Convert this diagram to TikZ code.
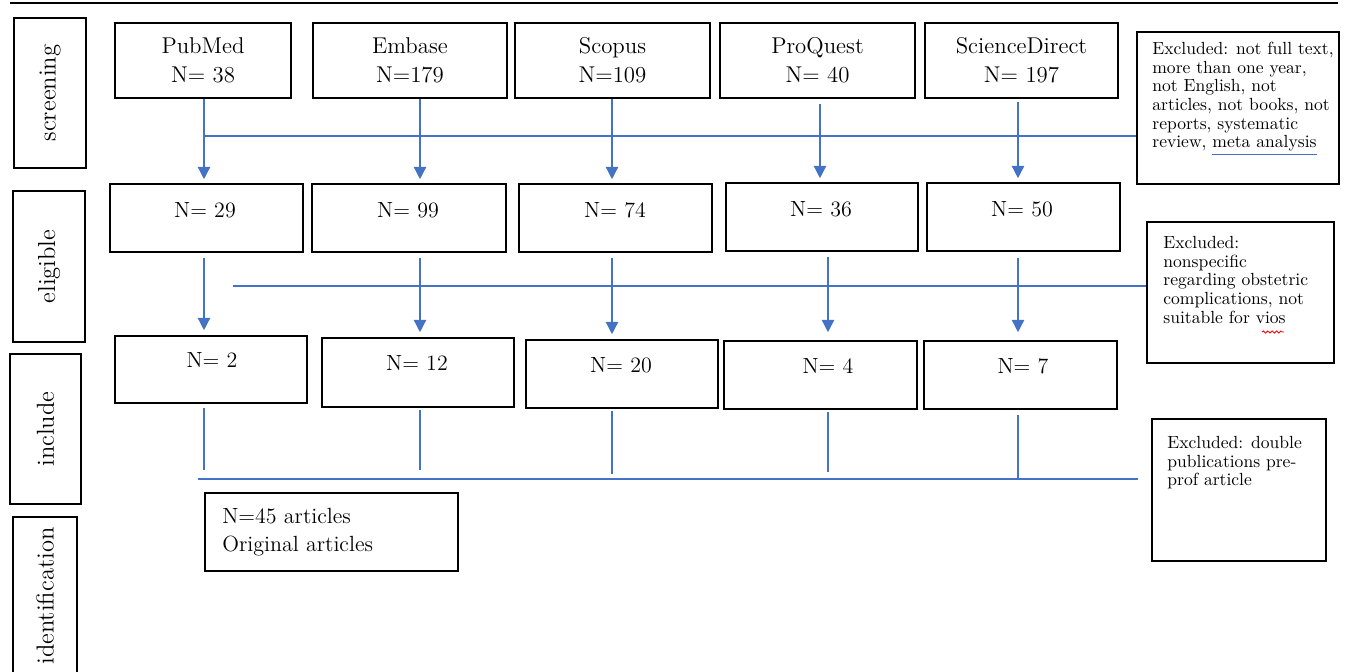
\documentclass[tikz,border=0pt]{standalone}
\usetikzlibrary{arrows.meta,decorations.pathmorphing}
\definecolor{lineblue}{HTML}{4472C4}

\begin{document}
\begin{tikzpicture}[
    x = 0.02cm,
    y = -0.02cm,
    >={Triangle[width=7pt,length=7pt]},
    box/.style = {
      draw,
      line width = 0.9pt,
      rectangle,
      inner sep = 0pt
    },
    src/.style = {box, minimum height=1.5cm, align=center, font=\fontsize{13}{16.5}\selectfont},
    cnt/.style = {box, minimum height=1.36cm},
    stage/.style = {box, rotate=90, font=\fontsize{14}{16}\selectfont},
    txt/.style = {inner sep=0pt, font=\fontsize{12.5}{16}\selectfont},
    note/.style = {inner sep=0pt, align=left, font=\fontsize{10}{10.6}\selectfont},
    flow/.style = {lineblue, line width=0.8pt}
  ]
\useasboundingbox (0,0) rectangle (1346,672);

% rule
\draw[line width=1pt] (10,3) -- (1338,3);

% stages
\node[stage, minimum width=3cm, minimum height=1.44cm] (screening) at (50,93) {screening};
\node[stage, minimum width=3.02cm, minimum height=1.44cm] (eligible) at (49,266.5) {eligible};
\node[stage, minimum width=3cm, minimum height=1.42cm] (include) at (45.5,429) {include};
\node[stage, minimum width=3.16cm, minimum height=1.28cm] (identification) at (45,596) {identification};

% databases
\node[src, minimum width=3.52cm] (pubmed)   at (203,60.5)    {PubMed\\N= 38};
\node[src, minimum width=3.88cm] (embase)   at (410,60.5)    {Embase\\N=179};
\node[src, minimum width=3.9cm]  (scopus)   at (612.5,60.5)  {Scopus\\N=109};
\node[src, minimum width=3.9cm]  (proquest) at (817.5,60.5)  {ProQuest\\N= 40};
\node[src, minimum width=3.86cm] (scidir)   at (1021.5,60.5) {ScienceDirect\\N= 197};

% eligible counts
\node[cnt, minimum width=3.86cm] (elig1) at (206.5,218) {};
\node[cnt, minimum width=3.88cm] (elig2) at (409,218)   {};
\node[cnt, minimum width=3.86cm] (elig3) at (615.5,218) {};
\node[cnt, minimum width=3.84cm] (elig4) at (822,217)   {};
\node[cnt, minimum width=3.86cm] (elig5) at (1023.5,217) {};
\node[txt, anchor=north] (elig1n) at (205,202)  {N= 29};
\node[txt, anchor=north] (elig2n) at (408,202)  {N= 99};
\node[txt, anchor=north] (elig3n) at (615,202)  {N= 74};
\node[txt, anchor=north] (elig4n) at (821,201)  {N= 36};
\node[txt, anchor=north] (elig5n) at (1022,201) {N= 50};

% included counts
\node[cnt, minimum width=3.84cm, minimum height=1.34cm] (inc1) at (211,369.5)  {};
\node[cnt, minimum width=3.84cm, minimum height=1.38cm] (inc2) at (418,372.5)  {};
\node[cnt, minimum width=3.84cm] (inc3) at (622,374)    {};
\node[cnt, minimum width=3.86cm] (inc4) at (820.5,375)  {};
\node[cnt, minimum width=3.86cm] (inc5) at (1020.5,375) {};
\node[txt, anchor=north] (inc1n) at (212,352)  {N= 2};
\node[txt, anchor=north] (inc2n) at (417,355)  {N= 12};
\node[txt, anchor=north] (inc3n) at (621,357)  {N= 20};
\node[txt, anchor=north] (inc4n) at (828,358)  {N= 4};
\node[txt, anchor=north] (inc5n) at (1023,358) {N= 7};

% result
\node[box, minimum width=5.06cm, minimum height=1.56cm] (final) at (331.5,532) {};
\node[txt, anchor=north west, align=left] (finaln) at (222,508) {N=45 articles\\Original articles};

% excluded
\node[box, minimum width=4.04cm, minimum height=3.04cm] (excl1) at (1238,108)   {};
\node[box, minimum width=3.74cm, minimum height=2.82cm] (excl2) at (1240.5,292.5) {};
\node[box, minimum width=3.48cm, minimum height=2.84cm] (excl3) at (1239,490)   {};
\node[note, anchor=north west] (excl1n) at (1152,42)
  {Excluded: not full text,\\more than one year,\\not English, not\\articles, not books, not\\reports, systematic\\review, \rlap{\color{lineblue}\underline{\phantom{meta analysis}}}meta analysis};
\node[note, anchor=north west] (excl2n) at (1163,236)
  {Excluded:\\nonspecific\\regarding obstetric\\complications, not\\suitable for vios};
\draw[red, line width=0.5pt, decorate, decoration={snake, amplitude=0.6pt, segment length=2.5pt}]
  (1262,332) -- (1284,332);
\node[note, anchor=north west] (excl3n) at (1167,436)
  {Excluded: double\\publications pre-\\prof article};

% columns
\coordinate (col1) at (204,0);
\coordinate (col2) at (420,0);
\coordinate (col3) at (612,0);
\coordinate (col4) at (820,0);
\coordinate (col4b) at (828,0);
\coordinate (col5) at (1018,0);

% screening -> eligible
\draw[flow,->,shorten >=0.08cm] (col1 |- pubmed.south)   -- (col1 |- elig1.north);
\draw[flow,->,shorten >=0.08cm] (col2 |- embase.south)   -- (col2 |- elig2.north);
\draw[flow,->,shorten >=0.08cm] (col3 |- scopus.south)   -- (col3 |- elig3.north);
\draw[flow,->,shorten >=0.08cm,shorten <=0.1cm] (col4 |- proquest.south) -- (col4 |- elig4.north);
\draw[flow,->,shorten >=0.08cm,shorten <=0.06cm] (col5 |- scidir.south)   -- (col5 |- elig5.north);
\coordinate (scr) at (204,136);
\draw[flow] (scr) -- (scr -| excl1.west);

% eligible -> include
\draw[flow,->,shorten >=0.1cm,shorten <=0.1cm] (col1 |- elig1.south) -- (col1 |- inc1.north);
\draw[flow,->,shorten >=0.1cm,shorten <=0.1cm] (col2 |- elig2.south) -- (col2 |- inc2.north);
\draw[flow,->,shorten >=0.1cm,shorten <=0.1cm] (col3 |- elig3.south) -- (col3 |- inc3.north);
\draw[flow,->,shorten >=0.16cm,shorten <=0.1cm] (col4b |- elig4.south) -- (col4b |- inc4.north);
\draw[flow,->,shorten >=0.16cm,shorten <=0.12cm] (col5 |- elig5.south) -- (col5 |- inc5.north);
\coordinate (eli) at (233,286);
\draw[flow] (eli) -- (eli -| excl2.west);

% include -> result
\coordinate (inc) at (198,479);
\coordinate (incend) at (1138,479);
\draw[flow] (inc) -- (incend);
\draw[flow,shorten <=0.08cm,shorten >=0.18cm] (col1 |- inc1.south) -- (col1 |- inc);
\draw[flow,shorten <=0.04cm,shorten >=0.18cm] (col2 |- inc2.south) -- (col2 |- inc);
\draw[flow,shorten <=0.04cm,shorten >=0.1cm] (col3 |- inc3.south) -- (col3 |- inc);
\draw[flow,shorten <=0.04cm,shorten >=0.14cm] (col4b |- inc4.south) -- (col4b |- inc);
\draw[flow,shorten <=0.1cm] (col5 |- inc5.south) -- (col5 |- inc);

\end{tikzpicture}
\end{document}
